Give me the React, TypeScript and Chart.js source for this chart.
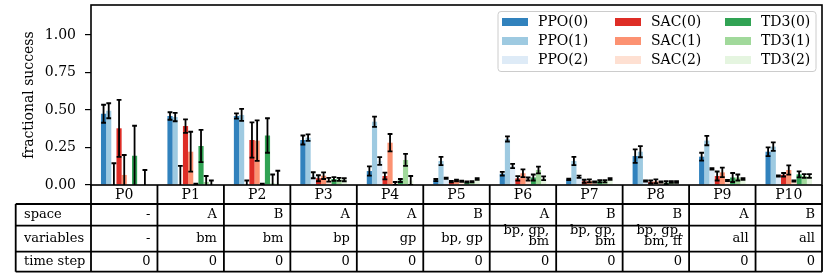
import React, { useEffect, useRef } from 'react';
import { Chart, registerables } from 'chart.js';

Chart.register(...registerables);

const FONT = '"DejaVu Serif", serif';

const categories = ['P0', 'P1', 'P2', 'P3', 'P4', 'P5', 'P6', 'P7', 'P8', 'P9', 'P10'];

const ppo0 = [0.475, 0.46, 0.46, 0.3, 0.093, 0.033, 0.075, 0.038, 0.193, 0.189, 0.222];
const ppo0Err = [0.06, 0.025, 0.017, 0.03, 0.031, 0.007, 0.012, 0.005, 0.045, 0.026, 0.029];
const ppo1 = [0.495, 0.453, 0.467, 0.316, 0.422, 0.16, 0.307, 0.16, 0.222, 0.296, 0.256];
const ppo1Err = [0.05, 0.028, 0.04, 0.022, 0.034, 0.028, 0.017, 0.027, 0.037, 0.031, 0.028];
const ppo2 = [0.005, 0.003, 0.003, 0.065, 0.16, 0.045, 0.127, 0.055, 0.027, 0.107, 0.06];
const ppo2Err = [0.14, 0.125, 0.027, 0.02, 0.026, 0.004, 0.014, 0.008, 0.004, 0.005, 0.004];
const sac0 = [0.378, 0.393, 0.3, 0.045, 0.06, 0.022, 0.044, 0.025, 0.02, 0.06, 0.068];
const sac0Err = [0.19, 0.045, 0.118, 0.02, 0.022, 0.005, 0.015, 0.01, 0.01, 0.03, 0.012];
const sac1 = [0.067, 0.222, 0.296, 0.062, 0.282, 0.03, 0.078, 0.028, 0.025, 0.084, 0.1];
const sac1Err = [0.133, 0.133, 0.135, 0.022, 0.058, 0.006, 0.026, 0.01, 0.012, 0.032, 0.031];
const sac2 = [0, 0.005, 0.005, 0.035, 0.01, 0.025, 0.04, 0.02, 0.02, 0.03, 0.027];
const sac2Err = [0, 0.004, 0.004, 0.012, 0.01, 0.004, 0.01, 0.004, 0.004, 0.004, 0.004];
const td30 = [0.195, 0.26, 0.33, 0.04, 0.03, 0.02, 0.05, 0.025, 0.015, 0.05, 0.071];
const td30Err = [0.2, 0.107, 0.115, 0.012, 0.01, 0.004, 0.02, 0.008, 0.01, 0.03, 0.02];
const td31 = [0, 0.02, 0.01, 0.037, 0.167, 0.022, 0.1, 0.025, 0.02, 0.05, 0.06];
const td31Err = [0, 0.04, 0.06, 0.01, 0.04, 0.004, 0.022, 0.008, 0.005, 0.02, 0.012];
const td32 = [0.005, 0.01, 0.01, 0.035, 0.03, 0.04, 0.045, 0.04, 0.02, 0.04, 0.06];
const td32Err = [0.095, 0.02, 0.085, 0.01, 0.03, 0.005, 0.012, 0.005, 0.005, 0.005, 0.012];

const seriesLabels = ['PPO(0)', 'PPO(1)', 'PPO(2)', 'SAC(0)', 'SAC(1)', 'SAC(2)', 'TD3(0)', 'TD3(1)', 'TD3(2)'];
const seriesColors = ['#3182bd', '#9ecae1', '#deebf7', '#de2d26', '#fc9272', '#fee0d2', '#31a354', '#a1d99b', '#e5f5e0'];
const seriesValues = [ppo0, ppo1, ppo2, sac0, sac1, sac2, td30, td31, td32];
const seriesErrors = [ppo0Err, ppo1Err, ppo2Err, sac0Err, sac1Err, sac2Err, td30Err, td31Err, td32Err];

const yTicks = [0, 0.25, 0.5, 0.75, 1.0];

const tableRowLabels = ['space', 'variables', 'time step'];
const spaceRow = ['-', 'A', 'B', 'A', 'A', 'B', 'A', 'B', 'B', 'A', 'B'];
const variablesRow = ['-', 'bm', 'bm', 'bp', 'gp', 'bp, gp', 'bp, gp,\nbm', 'bp, gp,\nbm', 'bp, gp,\nbm, ff', 'all', 'all'];
const timeStepRow = ['0', '0', '0', '0', '0', '0', '0', '0', '0', '0', '0'];
const tableRows = [spaceRow, variablesRow, timeStepRow];

const errorBarPlugin = {
  id: 'errorBars',
  afterDatasetsDraw(chart: any) {
    const { ctx, chartArea, scales } = chart;
    const y = scales.y;
    ctx.save();
    ctx.beginPath();
    ctx.rect(chartArea.left, chartArea.top, chartArea.right - chartArea.left, chartArea.bottom - chartArea.top);
    ctx.clip();
    ctx.strokeStyle = '#000';
    ctx.lineWidth = 1.8;
    chart.data.datasets.forEach((ds: any, i: number) => {
      const meta = chart.getDatasetMeta(i);
      meta.data.forEach((bar: any, j: number) => {
        const e = ds.errors[j];
        if (!e) return;
        const v = ds.data[j];
        const yTop = y.getPixelForValue(v + e);
        const yBot = y.getPixelForValue(v - e);
        const x = bar.x;
        ctx.beginPath();
        ctx.moveTo(x, yTop);
        ctx.lineTo(x, yBot);
        ctx.moveTo(x - 2.4, yTop);
        ctx.lineTo(x + 2.4, yTop);
        ctx.moveTo(x - 2.4, yBot);
        ctx.lineTo(x + 2.4, yBot);
        ctx.stroke();
      });
    });
    ctx.restore();
  },
};

const decorPlugin = {
  id: 'decor',
  afterDraw(chart: any) {
    const { ctx, chartArea } = chart;
    const { left, right, top, bottom } = chartArea;
    const n = categories.length;
    const cw = (right - left) / n;
    ctx.save();

    // frame
    ctx.strokeStyle = '#000';
    ctx.lineWidth = 1.6;
    ctx.strokeRect(left, top, right - left, bottom - top);

    // legend
    const lx = 498, ly = 11.5, lw = 318, lh = 60;
    ctx.beginPath();
    (ctx as any).roundRect(lx, ly, lw, lh, 3);
    ctx.fillStyle = 'rgba(255,255,255,0.8)';
    ctx.fill();
    ctx.strokeStyle = '#cccccc';
    ctx.lineWidth = 1;
    ctx.stroke();
    const colX = [502, 615, 725];
    const rowY = [22, 41, 60];
    ctx.font = `14px ${FONT}`;
    ctx.textBaseline = 'middle';
    ctx.textAlign = 'left';
    chart.data.datasets.forEach((ds: any, i: number) => {
      const c = Math.floor(i / 3);
      const r = i % 3;
      ctx.fillStyle = ds.backgroundColor;
      ctx.fillRect(colX[c], rowY[r] - 4, 26, 8);
      ctx.fillStyle = '#000';
      ctx.fillText(ds.label, colX[c] + 36, rowY[r] + 0.5);
    });

    // header row (category names) and table grid
    const hTop = bottom, hBot = 204;
    const tLeft = 15.7;
    const rowLines = [204, 225.7, 251.7, 271.7];
    ctx.strokeStyle = '#000';
    ctx.lineWidth = 1.8;
    ctx.beginPath();
    for (let k = 0; k <= n; k++) {
      const x = left + k * cw;
      ctx.moveTo(x, hTop);
      ctx.lineTo(x, rowLines[rowLines.length - 1]);
    }
    ctx.moveTo(tLeft, rowLines[0]);
    ctx.lineTo(tLeft, rowLines[rowLines.length - 1]);
    rowLines.forEach((yy) => {
      ctx.moveTo(tLeft, yy);
      ctx.lineTo(right, yy);
    });
    ctx.stroke();

    ctx.fillStyle = '#000';
    ctx.font = `14px ${FONT}`;
    ctx.textAlign = 'center';
    ctx.textBaseline = 'middle';
    categories.forEach((c, k) => {
      ctx.fillText(c, left + (k + 0.5) * cw, (hTop + hBot) / 2 + 0.5);
    });

    // table body
    ctx.font = `13px ${FONT}`;
    tableRows.forEach((row, r) => {
      const yc = (rowLines[r] + rowLines[r + 1]) / 2;
      ctx.textAlign = 'left';
      ctx.fillText(tableRowLabels[r], 24, yc);
      ctx.textAlign = 'right';
      row.forEach((txt, k) => {
        const xr = left + (k + 1) * cw - 7;
        const lines = txt.split('\n');
        if (lines.length === 1) {
          ctx.fillText(txt, xr, yc);
        } else {
          ctx.fillText(lines[0], xr, yc - 8);
          ctx.fillText(lines[1], xr, yc + 3);
        }
      });
    });

    ctx.restore();
  },
};

export default function App() {
  const ref = useRef<HTMLCanvasElement | null>(null);

  useEffect(() => {
    if (!ref.current) return;
    const chart = new Chart(ref.current, {
      type: 'bar',
      data: {
        labels: categories,
        datasets: seriesLabels.map((label, i) => ({
          label,
          data: seriesValues[i],
          errors: seriesErrors[i],
          backgroundColor: seriesColors[i],
          borderWidth: 0,
          categoryPercentage: 0.7,
          barPercentage: 1.0,
        })) as any,
      },
      options: {
        responsive: false,
        animation: false,
        devicePixelRatio: 1,
        layout: { padding: { left: 17, right: 8, top: 5, bottom: 92 } },
        plugins: {
          legend: { display: false },
          tooltip: { enabled: false },
        },
        scales: {
          x: {
            type: 'category',
            display: false,
          },
          y: {
            min: 0,
            max: 1.2,
            afterBuildTicks: (scale: any) => {
              scale.ticks = yTicks.map((v) => ({ value: v }));
            },
            afterFit: (scale: any) => {
              scale.width = 74;
              scale.paddingTop = 0;
              scale.paddingBottom = 0;
            },
            ticks: {
              color: '#000',
              padding: 9,
              font: { family: FONT, size: 14 },
              callback: (v: any) => Number(v).toFixed(2),
            },
            grid: {
              display: true,
              drawOnChartArea: false,
              drawTicks: true,
              tickLength: 6,
              color: '#000',
              lineWidth: 1.2,
            },
            border: { display: false },
            title: {
              display: true,
              text: 'fractional success',
              color: '#000',
              font: { family: FONT, size: 14 },
              padding: { top: 4, bottom: 4 },
            },
          },
        },
      } as any,
      plugins: [errorBarPlugin, decorPlugin],
    });
    return () => chart.destroy();
  }, []);

  return (
    <div style={{ position: 'absolute', left: 0, top: 0, width: 830, height: 277 }}>
      <canvas ref={ref} width={830} height={277} style={{ width: 830, height: 277 }} />
    </div>
  );
}
